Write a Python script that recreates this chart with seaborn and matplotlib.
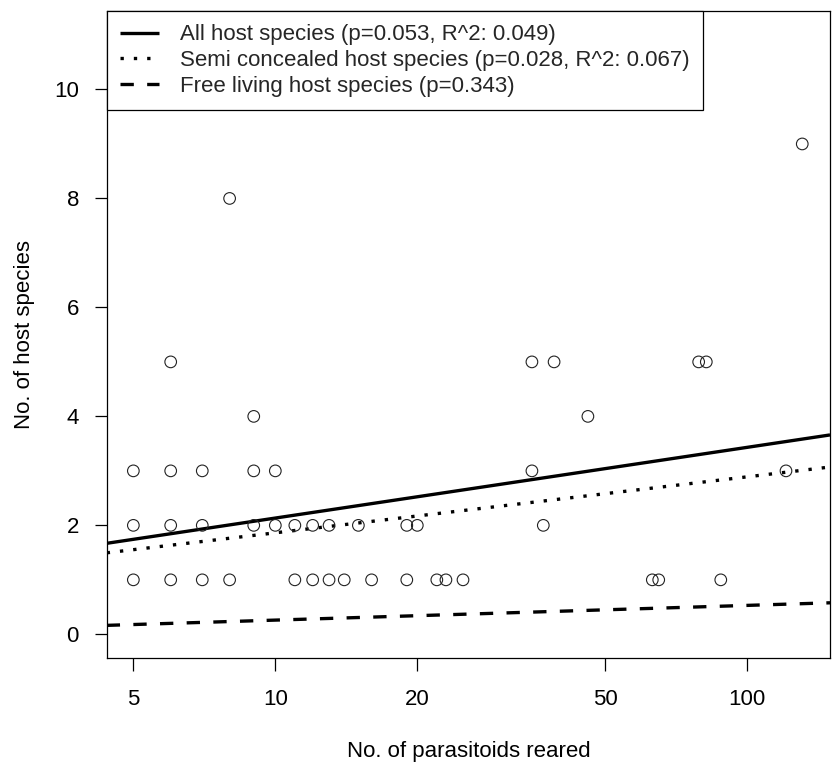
import numpy as np
import pandas as pd
import matplotlib
matplotlib.use("Agg")
import matplotlib.pyplot as plt
import seaborn as sns

# Observations: parasitoids reared vs. number of host species
reared = [5, 6, 7, 8, 11, 12, 13, 14, 16, 19, 22, 23, 25, 63, 65, 88,
          5, 6, 7, 9, 10, 11, 12, 13, 15, 19, 20, 37,
          5, 6, 7, 9, 10, 35, 121,
          9, 46,
          6, 35, 39, 79, 82,
          8,
          131]
hosts = [1, 1, 1, 1, 1, 1, 1, 1, 1, 1, 1, 1, 1, 1, 1, 1,
         2, 2, 2, 2, 2, 2, 2, 2, 2, 2, 2, 2,
         3, 3, 3, 3, 3, 3, 3,
         4, 4,
         5, 5, 5, 5, 5,
         8,
         9]

# Fitted models: hosts = intercept + slope * log10(reared)
fit_labels = ["All host species (p=0.053, R^2: 0.049)",
              "Semi concealed host species (p=0.028, R^2: 0.067)",
              "Free living host species (p=0.343)"]
fit_intercepts = [0.837, 0.836, -0.009]
fit_slopes = [1.297, 1.027, 0.270]
fit_dashes = [None, (1, 3), (4, 4)]

x_ticks = [5, 10, 20, 50, 100]
y_ticks = [0, 2, 4, 6, 8, 10]

FS = 16

sns.set_theme(style="white")
plt.rcParams["font.family"] = ["Liberation Sans", "DejaVu Sans"]
plt.rcParams["font.size"] = FS

df = pd.DataFrame({"reared": reared, "hosts": hosts})

fig = plt.figure(figsize=(8.35, 7.74), dpi=100)
ax = fig.add_axes([106.7 / 835, 1 - 658.3 / 774, (830 - 106.7) / 835, (658.3 - 11) / 774])

sns.scatterplot(data=df, x="reared", y="hosts", ax=ax, marker="o", s=70,
                facecolor="none", edgecolor="#222222", linewidth=0.8, zorder=3)

ax.set_xscale("log")
xlim = (4.39, 150.0)
ax.set_xlim(*xlim)
ax.set_ylim(-0.44, 11.44)

xs = np.array(xlim)
for lab, a, b, d in zip(fit_labels, fit_intercepts, fit_slopes, fit_dashes):
    line, = ax.plot(xs, a + b * np.log10(xs), color="black", lw=2.4,
                    solid_capstyle="butt", dash_capstyle="butt", label=lab, zorder=2)
    if d is not None:
        line.set_dashes(d)

ax.set_xticks(x_ticks)
ax.set_xticklabels([str(t) for t in x_ticks])
ax.xaxis.set_minor_locator(matplotlib.ticker.NullLocator())
ax.set_yticks(y_ticks)
ax.set_yticklabels([str(t) for t in y_ticks])

ax.tick_params(axis="both", which="major", direction="out", length=9, width=0.9,
               color="black", labelcolor="black", labelsize=FS,
               bottom=True, left=True, top=False, right=False)
ax.tick_params(axis="x", pad=13)
ax.tick_params(axis="y", pad=11)

for sp in ax.spines.values():
    sp.set_color("black")
    sp.set_linewidth(0.9)

ax.set_xlabel("No. of parasitoids reared", fontsize=FS, color="black", va="center")
ax.set_ylabel("No. of host species", fontsize=FS, color="black", va="center")
ax.xaxis.set_label_coords(0.5, (658.3 - 752) / 647.3)
ax.yaxis.set_label_coords((25 - 106.7) / 723.3, 0.5)

leg = ax.legend(loc="upper left", borderaxespad=0, fancybox=False, framealpha=1,
                edgecolor="black", fontsize=FS, handlelength=1.75, handletextpad=0.95,
                labelspacing=0.22, borderpad=0.6)
leg.get_frame().set_linewidth(0.9)

fig.savefig("out.png", dpi=100, facecolor="white")
